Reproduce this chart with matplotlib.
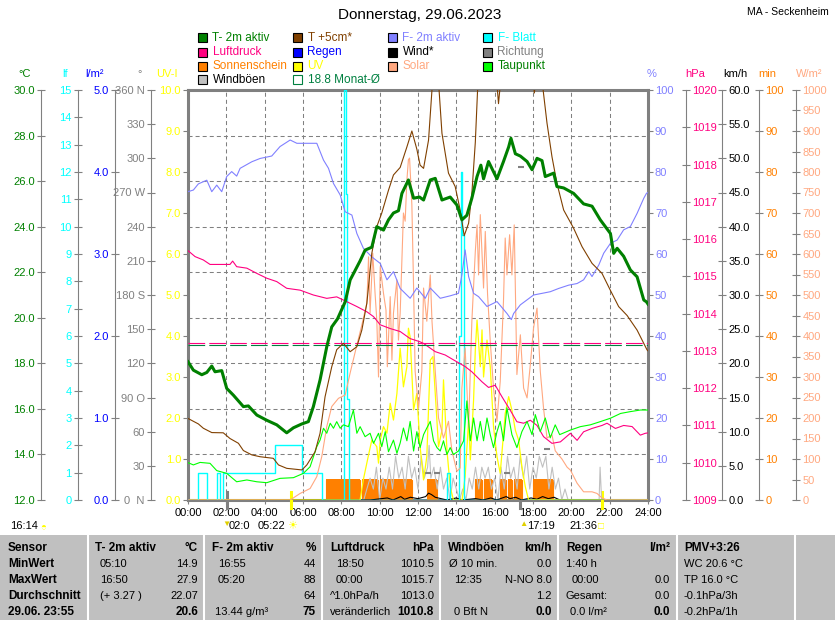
import matplotlib
matplotlib.use("Agg")
import matplotlib.pyplot as plt
from matplotlib import transforms
from matplotlib.patches import Rectangle
from matplotlib.lines import Line2D
from matplotlib.ticker import FixedLocator, FuncFormatter
import numpy as np

plt.rcParams["font.family"] = ["Liberation Sans", "DejaVu Sans"]
plt.rcParams["lines.scale_dashes"] = False

# ---------------- data (time in hours, value) ----------------
TITLE = "Donnerstag, 29.06.2023"
STATION = "MA - Seckenheim"
HOUR_TICKS = list(range(0, 25, 2))

T2M = [(0, 18.07), (0.28, 17.7), (0.72, 17.5), (0.98, 17.6), (1.24, 17.88), (1.41, 17.63),
       (1.76, 17.68), (2.02, 16.9), (2.37, 16.6), (2.89, 16.1), (3.15, 16.13), (3.59, 15.73),
       (4.11, 15.5), (4.63, 15.3), (5.15, 14.95), (5.5, 15.17), (5.94, 15.34), (6.28, 15.44),
       (6.54, 16.1), (6.89, 17.27), (7.24, 18.73), (7.5, 19.6), (7.8, 19.95), (8.2, 20.7),
       (8.46, 21.66), (8.98, 22.5), (9.24, 22.97), (9.59, 23.1), (9.85, 24.0), (10.2, 23.85),
       (10.46, 24.3), (10.72, 24.6), (10.98, 24.7), (11.16, 25.46), (11.5, 26.05), (11.77, 25.25),
       (12.08, 25.3), (12.29, 25.17), (12.64, 26.05), (12.9, 26.12), (13.25, 25.17), (13.68, 25.3),
       (14.03, 24.95), (14.29, 24.3), (14.55, 24.5), (14.81, 25.25), (15.08, 26.2), (15.28, 26.7),
       (15.42, 26.1), (15.68, 26.86), (16.12, 26.1), (16.46, 26.86), (16.73, 27.5), (16.85, 27.88),
       (17.08, 27.2), (17.34, 27.1), (17.69, 26.86), (17.95, 26.5), (18.21, 27.0), (18.47, 26.9),
       (18.64, 26.2), (19.08, 26.35), (19.25, 25.76), (19.6, 25.7), (20.12, 25.46), (20.64, 25.0),
       (21.08, 24.9), (21.51, 24.3), (22.04, 23.7), (22.21, 22.83), (22.39, 23.05), (22.73, 22.7),
       (23.08, 22.1), (23.43, 21.8), (23.78, 20.78), (23.92, 20.7), (24.0, 20.6)]

T5CM = [(0, 15.58), (0.54, 15.34), (0.8, 15.15), (1.24, 14.96), (1.84, 14.95), (2.19, 14.7),
        (2.63, 14.49), (2.89, 14.17), (3.33, 13.98), (3.76, 13.9), (4.45, 13.83), (4.72, 13.54),
        (5.15, 13.39), (5.94, 13.32), (6.2, 13.54), (6.63, 14.12), (6.89, 14.93), (7.15, 16.53),
        (7.5, 17.85), (7.76, 18.6), (8.11, 18.88), (8.46, 18.51), (8.81, 18.73), (9.07, 19.46),
        (9.33, 20.63), (9.59, 22.83), (9.85, 24.0), (10.11, 24.6), (10.46, 25.6), (10.72, 26.27),
        (11.07, 26.6), (11.42, 27.5), (11.68, 28.2), (11.94, 27.4), (12.11, 26.7), (12.29, 26.56),
        (12.55, 27.8), (12.81, 31.0), (13.02, 31.0), (13.25, 28.1), (13.59, 26.35), (13.94, 25.76),
        (14.2, 24.73), (14.41, 23.6), (14.64, 24.15), (14.81, 25.46), (14.99, 27.7), (15.16, 31.0),
        (16.05, 31.0), (16.2, 29.4), (16.38, 31.0), (17.94, 31.0), (18.07, 29.87), (18.22, 31.0),
        (18.5, 30.2), (18.73, 28.55), (18.99, 27.07), (19.25, 25.9), (19.6, 24.73), (20.12, 23.93),
        (20.56, 23.12), (21.08, 22.39), (21.6, 21.95), (22.04, 21.2), (22.47, 20.49), (22.91, 20.1),
        (23.43, 19.46), (23.95, 18.59), (24.0, 18.55)]

HUM = [(0, 75.2), (0.28, 75.6), (0.54, 77.1), (0.98, 78.0), (1.24, 75.2), (1.5, 76.8), (1.76, 75.2),
       (2.02, 78.9), (2.28, 80.1), (2.54, 79.0), (2.72, 80.9), (3.33, 82.5), (3.76, 83.3), (4.37, 83.9),
       (4.8, 86.2), (5.33, 87.8), (5.68, 87.0), (6.72, 87.0), (7.07, 82.9), (7.33, 80.9), (7.59, 77.2),
       (7.94, 74.4), (8.2, 70.3), (8.55, 69.5), (8.81, 65.0), (9.15, 61.4), (9.59, 59.3), (10.03, 57.7),
       (10.38, 53.7), (10.72, 55.7), (11.07, 51.6), (11.59, 49.2), (11.94, 51.7), (12.38, 49.2),
       (12.64, 51.7), (13.16, 49.2), (13.68, 49.8), (14.11, 50.4), (14.29, 54.9), (14.46, 61.0),
       (14.64, 54.5), (14.9, 50.4), (15.16, 49.6), (15.6, 47.2), (16.12, 48.4), (16.64, 45.5),
       (16.87, 44.0), (16.99, 45.5), (17.34, 47.6), (18.03, 50.0), (18.47, 50.4), (18.9, 50.8),
       (19.34, 51.6), (19.86, 52.4), (20.3, 52.8), (20.64, 53.7), (20.91, 55.7), (21.08, 54.5),
       (21.43, 57.3), (21.69, 60.2), (22.04, 62.6), (22.39, 63.4), (22.73, 65.9), (23.08, 66.7),
       (23.43, 69.9), (23.78, 73.6), (23.92, 74.8), (24.0, 75.0)]

PRESS = [(0, 1015.69), (0.37, 1015.53), (0.8, 1015.44), (1.15, 1015.32), (2.19, 1015.32), (2.33, 1015.41),
         (2.54, 1015.26), (3.07, 1015.22), (3.59, 1015.08), (4.11, 1014.95), (4.63, 1014.86),
         (5.15, 1014.68), (5.85, 1014.63), (6.54, 1014.5), (7.24, 1014.41), (7.76, 1014.45),
         (8.29, 1014.32), (8.81, 1014.19), (9.33, 1014.05), (9.68, 1013.92), (10.03, 1013.7),
         (10.55, 1013.6), (11.07, 1013.52), (11.59, 1013.33), (12.08, 1013.25), (12.29, 1013.2),
         (12.9, 1012.98), (13.42, 1012.89), (13.85, 1012.76), (14.46, 1012.58), (14.81, 1012.44),
         (15.34, 1012.17), (15.68, 1012.02), (16.03, 1012.08), (16.38, 1011.77), (16.81, 1011.41),
         (17.16, 1011.1), (17.51, 1011.06), (17.86, 1011.14), (18.21, 1011.0), (18.55, 1010.7),
         (18.99, 1010.52), (19.43, 1010.56), (19.95, 1010.79), (20.3, 1010.6), (20.64, 1010.83),
         (21.08, 1010.92), (21.6, 1011.0), (21.86, 1011.06), (22.3, 1010.92), (22.73, 1011.0),
         (23.17, 1010.97), (23.6, 1010.74), (23.86, 1010.79), (24.0, 1010.8)]

DEW = [(0, 13.64), (0.28, 13.54), (0.63, 13.65), (1.15, 13.61), (1.5, 13.29), (2.02, 13.17), (2.54, 12.8),
       (3.07, 12.88), (3.59, 12.8), (4.11, 12.76), (4.8, 12.95), (5.5, 12.98), (6.02, 13.17), (6.37, 13.46),
       (6.72, 14.34), (6.89, 14.63), (7.07, 15.15), (7.24, 14.93), (7.42, 15.37), (7.59, 15.15),
       (7.76, 15.44), (7.94, 15.15), (8.11, 15.3), (8.37, 15.22), (8.63, 15.95), (8.81, 14.93),
       (8.98, 15.22), (9.24, 14.78), (9.5, 14.93), (9.68, 14.49), (9.94, 14.93), (10.11, 14.34),
       (10.29, 15.0), (10.46, 14.12), (10.72, 14.63), (10.9, 14.05), (11.07, 14.5), (11.24, 15.16),
       (11.42, 14.6), (11.59, 15.45), (11.77, 14.15), (11.94, 15.0), (12.11, 14.3), (12.29, 14.87),
       (12.46, 15.16), (12.64, 15.45), (12.81, 14.6), (12.99, 14.3), (13.16, 14.15), (13.33, 14.6),
       (13.51, 14.0), (13.68, 14.3), (13.85, 14.0), (14.11, 14.15), (14.38, 14.6), (14.55, 16.35),
       (14.73, 14.6), (14.9, 15.6), (15.08, 14.6), (15.25, 15.45), (15.42, 14.6), (15.6, 15.6),
       (15.77, 14.87), (15.94, 14.3), (16.12, 15.0), (16.29, 15.45), (16.46, 14.6), (16.64, 16.05),
       (16.9, 14.87), (17.16, 14.3), (17.42, 15.0), (17.69, 15.45), (17.95, 14.87), (18.12, 15.75),
       (18.38, 15.0), (18.64, 15.6), (18.9, 14.73), (19.16, 15.3), (19.39, 14.87), (19.95, 15.07),
       (20.47, 15.22), (20.99, 15.3), (21.51, 15.44), (22.04, 15.59), (22.57, 15.8), (23.08, 15.88),
       (23.6, 15.95), (24.0, 15.95)]

SOLAR = [(0, 0), (5.33, 0), (5.85, 16), (6.37, 28), (6.72, 57), (6.98, 106), (7.24, 179), (7.5, 228),
         (7.85, 248), (8.2, 256), (8.46, 310), (8.81, 378), (9.07, 427), (9.33, 480), (9.42, 593),
         (9.5, 456), (9.64, 602), (9.76, 504), (9.85, 439), (9.94, 300), (10.03, 569), (10.2, 504),
         (10.33, 463), (10.4, 325), (10.55, 496), (10.64, 341), (10.72, 456), (10.9, 537), (10.98, 390),
         (11.07, 456), (11.24, 700), (11.33, 680), (11.42, 780), (11.5, 830), (11.56, 834), (11.68, 720),
         (11.77, 517), (11.85, 314), (12.03, 224), (12.2, 314), (12.29, 517), (12.46, 436), (12.64, 549),
         (12.73, 436), (12.9, 314), (13.07, 200), (13.33, 151), (13.59, 192), (13.77, 120), (14.03, 70),
         (14.2, 78), (14.29, 273), (14.46, 371), (14.64, 176), (14.81, 436), (14.99, 606), (15.08, 671),
         (15.16, 549), (15.25, 696), (15.42, 517), (15.51, 655), (15.63, 501), (15.77, 387), (15.94, 273),
         (16.12, 192), (16.29, 289), (16.46, 485), (16.55, 639), (16.64, 549), (16.78, 647), (16.9, 549),
         (17.02, 671), (17.16, 306), (17.34, 403), (17.51, 273), (17.69, 249), (17.86, 330), (18.03, 420),
         (18.21, 468), (18.38, 314), (18.55, 224), (18.73, 151), (18.99, 159), (19.16, 120), (19.51, 100),
         (19.78, 80), (19.95, 73), (20.3, 41), (20.64, 20), (21.08, 20), (21.34, 16), (21.6, 5),
         (21.86, 0), (24, 0)]

UVI = [(0, 0), (8.98, 0), (9.15, 0.5), (9.42, 1.1), (9.59, 1.46), (9.85, 1.3), (9.94, 0.9), (10.03, 1.46),
       (10.2, 1.79), (10.38, 1.63), (10.55, 2.36), (10.72, 1.95), (10.9, 2.6), (11.07, 3.7), (11.24, 2.76),
       (11.42, 3.25), (11.5, 4.19), (11.59, 3.98), (11.77, 2.2), (11.94, 2.6), (12.11, 1.3), (12.29, 0.49),
       (12.46, 1.06), (12.64, 3.41), (12.78, 3.5), (12.9, 2.6), (13.07, 1.3), (13.25, 1.7), (13.33, 2.93),
       (13.51, 1.22), (13.68, 0.32), (13.85, 0), (14.3, 0), (14.46, 0.57), (14.64, 1.95), (14.73, 0.98),
       (14.9, 2.44), (14.99, 3.66), (15.08, 4.39), (15.25, 3.25), (15.34, 4.15), (15.42, 3.0), (15.6, 3.9),
       (15.77, 3.25), (15.94, 1.79), (16.12, 1.06), (16.29, 0.65), (16.55, 2.11), (16.73, 2.52),
       (16.9, 2.19), (17.08, 1.7), (17.25, 1.46), (17.42, 0.81), (17.6, 0.32), (17.77, 0), (24, 0)]

LEAF = [(0, 0), (0.52, 1), (0.97, 0), (1.5, 1), (1.65, 0), (1.82, 1), (4.55, 2), (5.93, 1), (7.0, 0),
        (8.15, 15), (8.23, 11.2), (8.32, 3.7), (8.4, 0), (13.52, 1), (13.68, 0), (14.15, 6),
        (14.22, 12), (14.3, 9.7), (14.38, 0), (24, 0)]

SUNSHINE = [(0, 0), (7.2, 5), (8.97, 0), (9.06, 5), (9.93, 0), (10.02, 5), (11.67, 0), (12.45, 5),
            (12.97, 0), (14.97, 5), (15.32, 0), (15.42, 5), (15.84, 0), (16.28, 5), (16.6, 0), (16.67, 5),
            (16.93, 0), (17.0, 5), (17.42, 0), (18.0, 5), (19.06, 0), (24, 0)]

GUST = [(0, 0), (9.17, 0), (9.33, 1.6), (9.5, 3.2), (9.67, 1.6), (9.83, 4.8), (10.0, 0), (10.17, 3.2),
        (10.33, 1.6), (10.5, 4.8), (10.67, 1.6), (10.83, 6.4), (11.0, 3.2), (11.17, 4.8), (11.33, 1.6),
        (11.5, 6.4), (11.67, 3.2), (11.83, 4.8), (12.0, 1.6), (12.17, 6.4), (12.33, 3.2), (12.5, 4.8),
        (12.58, 8.0), (12.67, 3.2), (12.83, 4.8), (13.0, 1.6), (13.17, 4.8), (13.33, 1.6), (13.5, 3.2),
        (13.67, 0), (13.83, 3.2), (14.0, 1.6), (14.17, 0), (14.33, 1.6), (14.5, 0), (14.67, 3.2),
        (14.83, 1.6), (15.0, 4.8), (15.17, 1.6), (15.33, 4.8), (15.5, 3.2), (15.67, 4.8), (15.83, 1.6),
        (16.0, 3.2), (16.17, 0), (16.33, 4.8), (16.5, 1.6), (16.67, 6.4), (16.83, 3.2), (17.0, 4.8),
        (17.17, 1.6), (17.33, 6.4), (17.5, 3.2), (17.67, 6.4), (17.83, 1.6), (18.0, 4.8), (18.17, 3.2),
        (18.33, 6.4), (18.5, 4.8), (18.67, 6.4), (18.83, 1.6), (19.0, 4.8), (19.17, 1.6), (19.33, 3.2),
        (19.5, 0), (19.67, 1.6), (19.83, 0), (21.45, 0), (21.5, 4.8), (21.58, 0), (24, 0)]

WIND = [(0, 0), (9.5, 0), (10.4, 0.3), (10.7, 0), (11.1, 0.5), (11.3, 0.1), (11.6, 0.4), (12.0, 0.2),
        (12.4, 0.5), (12.55, 1.0), (12.7, 0.8), (12.9, 0.4), (13.2, 0.2), (13.5, 0), (14.0, 0.3), (14.3, 0),
        (15.0, 0.2), (15.4, 0), (15.8, 0.3), (16.1, 0), (16.6, 0.5), (16.8, 0.2), (17.1, 0.4), (17.4, 0),
        (17.9, 0.3), (18.2, 0.1), (18.5, 0.5), (18.8, 0.2), (19.1, 0.4), (19.4, 0), (24, 0)]

DIRECTION = [(12.5, 24), (13.0, 24), (16.65, 24), (17.35, 292), (18.75, 45)]
RAIN = [(0, 0), (24, 0)]

MONTH_T = 18.8
MONTH_P = 1013.2

# sun / moon events (hours)
MOONSET, SUNRISE, MOONRISE, SUNSET = 2.03, 5.37, 17.32, 21.6

TABLE = [
    ["Sensor", "MinWert", "MaxWert", "Durchschnitt", "29.06. 23:55"],
]
COLS = [
    # header, unit, left texts, right texts
    ("T- 2m aktiv", "°C", ["05:10", "16:50", "(+ 3.27 )", ""], ["14.9", "27.9", "22.07", "20.6"]),
    ("F- 2m aktiv", "%", ["16:55", "05:20", "", "13.44 g/m³"], ["44", "88", "64", "75"]),
    ("Luftdruck", "hPa", ["18:50", "00:00", "^1.0hPa/h", "veränderlich"], ["1010.5", "1015.7", "1013.0", "1010.8"]),
    ("Windböen", "km/h", ["Ø 10 min.", "12:35", "", "0 Bft N"], ["0.0", "N-NO 8.0", "1.2", "0.0"]),
    ("Regen", "l/m²", ["1:40 h", "00:00", "Gesamt:", "0.0 l/m²"], ["", "0.0", "0.0", "0.0"]),
    ("PMV+3:26", "", ["WC 20.6 °C", "TP 16.0 °C", "-0.1hPa/3h", "-0.2hPa/1h"], ["", "", "", ""]),
]

# ---------------- figure ----------------
W, H = 835, 620
fig = plt.figure(figsize=(W / 100, H / 100), dpi=100)
fig.patch.set_facecolor("white")


def fx(px):
    return px / W


def fy(py):
    return 1 - py / H


L, R, T, B = 188, 648, 90, 500
GRAY = "#808080"
ax0 = fig.add_axes([fx(L), fy(B), (R - L) / W, (B - T) / H])
ax0.set_xlim(0, 24)
ax0.set_ylim(0, 9)


def make_axis(side, pos_px, lim, step, fmt, color, unit, unit_x):
    a = ax0.twinx()
    a.set_ylim(*lim)
    for s in a.spines.values():
        s.set_visible(False)
    sp = a.spines[side]
    sp.set_visible(True)
    sp.set_position(("axes", (pos_px - L) / (R - L)))
    sp.set_color(GRAY)
    sp.set_linewidth(0.8)
    a.yaxis.set_ticks_position(side)
    ticks = list(np.arange(lim[0], lim[1] + step * 0.01, step))
    a.yaxis.set_major_locator(FixedLocator(ticks))
    if callable(fmt):
        a.yaxis.set_major_formatter(FuncFormatter(fmt))
    else:
        a.yaxis.set_major_formatter(FuncFormatter(lambda v, p, f=fmt: f.format(v)))
    on_frame = pos_px in (L, R)
    a.tick_params(axis="y", direction="out" if on_frame else "inout",
                  length=3.5 if on_frame else 6, width=0.8, color=GRAY,
                  labelcolor=color, labelsize=8, pad=1.5)
    fig.text(fx(unit_x), fy(74), unit, color=color, ha="center", va="center", fontsize=8)
    return a


DIR_LABELS = {360: "360 N", 270: "270 W", 180: "180 S", 90: "90 O", 0: "0  N"}


def dirfmt(v, p):
    v = int(round(v))
    return DIR_LABELS.get(v, str(v))


ax_sun = make_axis("right", 759, (0, 100), 10, "{:.0f}", "#ff8000", "min", 767)
ax_wind = make_axis("right", 722, (0, 60), 5, "{:.1f}", "black", "km/h", 735)
ax_dir = make_axis("left", 151, (0, 360), 30, dirfmt, GRAY, "°", 140)
ax_rain = make_axis("left", 115, (0, 5), 1, "{:.1f}", "#0000ff", "l/m²", 95)
ax_uv = make_axis("left", 188, (0, 10), 1, "{:.1f}", "#ffff00", "UV-I", 167)
ax_lf = make_axis("left", 78, (0, 15), 1, "{:.0f}", "#00ffff", "lf", 65)
ax_sol = make_axis("right", 796, (0, 1000), 50, "{:.0f}", "#ffa880", "W/m²", 809)
ax_p = make_axis("right", 686, (1009, 1020), 1, "{:.0f}", "#ff0080", "hPa", 695)
ax_hum = make_axis("right", 648, (0, 100), 10, "{:.0f}", "#8080ff", "%", 652)
ax_T = make_axis("left", 41, (12, 30), 2, "{:.1f}", "#008000", "°C", 25)

# frame / grid axis
ax0.set_xticks(HOUR_TICKS)
ax0.set_xticklabels([f"{h:02d}:00" for h in HOUR_TICKS])
ax0.set_yticks(range(10))
ax0.tick_params(axis="y", length=0, labelleft=False, labelright=False, left=False, right=False)
ax0.tick_params(axis="x", length=3, color=GRAY, labelsize=8, pad=3)
ax0.grid(True, color=GRAY, lw=0.75, linestyle=(0, (2.9, 2.2)))
for s in ax0.spines.values():
    s.set_color(GRAY)
    s.set_linewidth(2.2)


def xy(series):
    t, v = zip(*series)
    return list(t), list(v)


# sunshine bars
t, v = xy(SUNSHINE)
ax_sun.fill_between(t, 0, v, step="post", color="#ff8000", lw=0)
ax_sun.step(t, v, where="post", color="#ff8000", lw=0.8)

t, v = xy(GUST)
ax_wind.plot(t, v, color="#c0c0c0", lw=0.8)
t, v = xy(WIND)
ax_wind.plot(t, v, color="black", lw=0.8)

t, v = xy(DIRECTION)
ax_dir.plot(t, v, ls="none", marker="_", ms=4, mew=1.5, color=GRAY)

t, v = xy(RAIN)
ax_rain.plot(t, v, color="#0000ff", lw=0.8)

t, v = xy(UVI)
ax_uv.plot(t, v, color="#ffff00", lw=0.9)

t, v = xy(LEAF)
ax_lf.step(t, v, where="post", color="#00ffff", lw=1.0)

t, v = xy(SOLAR)
ax_sol.plot(t, v, color="#ffa880", lw=0.8)

t, v = xy(PRESS)
ax_p.plot(t, v, color="#ff0080", lw=0.8)
ax_p.axhline(MONTH_P, color="#ff0080", lw=0.8, dashes=(12, 3))

t, v = xy(HUM)
ax_hum.plot(t, v, color="#8080ff", lw=0.8)

t, v = xy(DEW)
ax_T.plot(t, v, color="#00ff00", lw=0.8, zorder=2)
ax_T.axhline(MONTH_T, color="#008040", lw=0.8, dashes=(12, 3), zorder=2)
t, v = xy(T5CM)
ax_T.plot(t, v, color="#804000", lw=0.8, zorder=3)
t, v = xy(T2M)
ax_T.plot(t, v, color="#008000", lw=2.2, zorder=4)

# sun / moon markers on the time axis
blend = transforms.blended_transform_factory(ax0.transData, ax0.transAxes)
for ev, col in [(MOONSET, GRAY), (SUNRISE, "#ffff00"), (MOONRISE, GRAY), (SUNSET, "#ffff00")]:
    ax0.plot([ev, ev], [-0.02, 0.02], transform=blend, color=col, lw=2.2, clip_on=False, zorder=5)

# ---------------- texts ----------------
fig.text(fx(420), fy(15), TITLE, ha="center", va="center", fontsize=11)
fig.text(fx(829), fy(12), STATION, ha="right", va="center", fontsize=7.5)

LEGEND = [
    [("T- 2m aktiv", "#008000", "#008000"), ("T +5cm*", "#804000", "#804000"),
     ("F- 2m aktiv", "#8080ff", "#8080ff"), ("F- Blatt", "#00ffff", "#00ffff")],
    [("Luftdruck", "#ff0080", "#ff0080"), ("Regen", "#0000ff", "#0000ff"),
     ("Wind*", "black", "black"), ("Richtung", GRAY, GRAY)],
    [("Sonnenschein", "#ff8000", "#ff8000"), ("UV", "#ffff00", "#ffff00"),
     ("Solar", "#ffa880", "#ffa880"), ("Taupunkt", "#00ff00", "#008000")],
    [("Windböen", "#c0c0c0", "black"), ("18.8 Monat-Ø", None, "#008040")],
]
LEG_X = [198, 293, 388, 483]
LEG_Y = [37.8, 52.2, 66.2, 79.8]
for r, row in enumerate(LEGEND):
    for c, (label, box, tcol) in enumerate(row):
        x0, yc = LEG_X[c], LEG_Y[r]
        if box is None:
            rect = Rectangle((fx(x0), fy(yc + 4.5)), 9 / W, 9 / H, transform=fig.transFigure,
                             facecolor="none", edgecolor="#008040", lw=0.8)
        else:
            rect = Rectangle((fx(x0), fy(yc + 4.5)), 9 / W, 9 / H, transform=fig.transFigure,
                             facecolor=box, edgecolor="black", lw=0.8)
        fig.add_artist(rect)
        fig.text(fx(x0 + 14.5), fy(yc), label, color=tcol, ha="left", va="center", fontsize=8.5)

# sun / moon times row
fig.text(fx(10), fy(526), "16:14", ha="left", va="center", fontsize=8)
fig.text(fx(40), fy(526), "◓", ha="left", va="center", fontsize=7, color="#ffff00")
fig.text(fx(222), fy(524), "▼", ha="left", va="center", fontsize=6, color="#e0d000")
fig.text(fx(229), fy(526), "02:0", ha="left", va="center", fontsize=8)
fig.text(fx(258), fy(526), "05:22", ha="left", va="center", fontsize=8,
         bbox=dict(facecolor="white", edgecolor="none", pad=0))
fig.text(fx(287), fy(526), "☀", ha="left", va="center", fontsize=8, color="#ffff00")
fig.text(fx(519), fy(525), "▲", ha="left", va="center", fontsize=6, color="#e0d000")
fig.text(fx(527), fy(526), "17:19", ha="left", va="center", fontsize=8)
fig.text(fx(569), fy(526), "21:36", ha="left", va="center", fontsize=8)
fig.text(fx(598), fy(526), "□", ha="left", va="center", fontsize=7, color="#ffff00")

# ---------------- table ----------------
TOP = 535
fig.add_artist(Rectangle((0, 0), 1, fy(TOP), transform=fig.transFigure,
                         facecolor="#c0c0c0", edgecolor="none"))
SEP = [88, 204, 322, 440, 558, 677, 795]
for sx in SEP:
    fig.add_artist(Line2D([fx(sx), fx(sx)], [0, fy(TOP)], transform=fig.transFigure,
                          color="white", lw=1.5))
ROW_Y = [548, 564, 580, 596, 612]
for i, s in enumerate(TABLE[0]):
    fig.text(fx(8), fy(ROW_Y[i]), s, ha="left", va="center", fontsize=8.5, fontweight="bold")

COL_L = [95, 212, 330, 448, 566, 684]
COL_R = [198, 316, 434, 552, 670, 790]
COL_IND = [5, 6, 6, 1, 0, 0]
for k, (head, unit, lefts, rights) in enumerate(COLS):
    fig.text(fx(COL_L[k]), fy(ROW_Y[0]), head, ha="left", va="center", fontsize=8.5, fontweight="bold")
    if unit:
        fig.text(fx(COL_R[k]), fy(ROW_Y[0]), unit, ha="right", va="center", fontsize=8.5, fontweight="bold")
    for i in range(4):
        ls = lefts[i]
        if ls:
            ind = COL_IND[k]
            if k == 2 and i >= 2:
                ind = 0
            if k == 1 and i == 3:
                ind = 3
            if k == 3 and i >= 1:
                ind = 6
            if k == 4 and i in (1, 3):
                ind = 6 if i == 1 else 4
            fig.text(fx(COL_L[k] + ind), fy(ROW_Y[i + 1]), ls, ha="left", va="center", fontsize=8)
        rs = rights[i]
        if rs:
            fig.text(fx(COL_R[k]), fy(ROW_Y[i + 1]), rs, ha="right", va="center",
                     fontsize=8.5 if i == 3 else 8, fontweight="bold" if i == 3 else "normal")

fig.savefig("out.png", dpi=100, facecolor="white")
